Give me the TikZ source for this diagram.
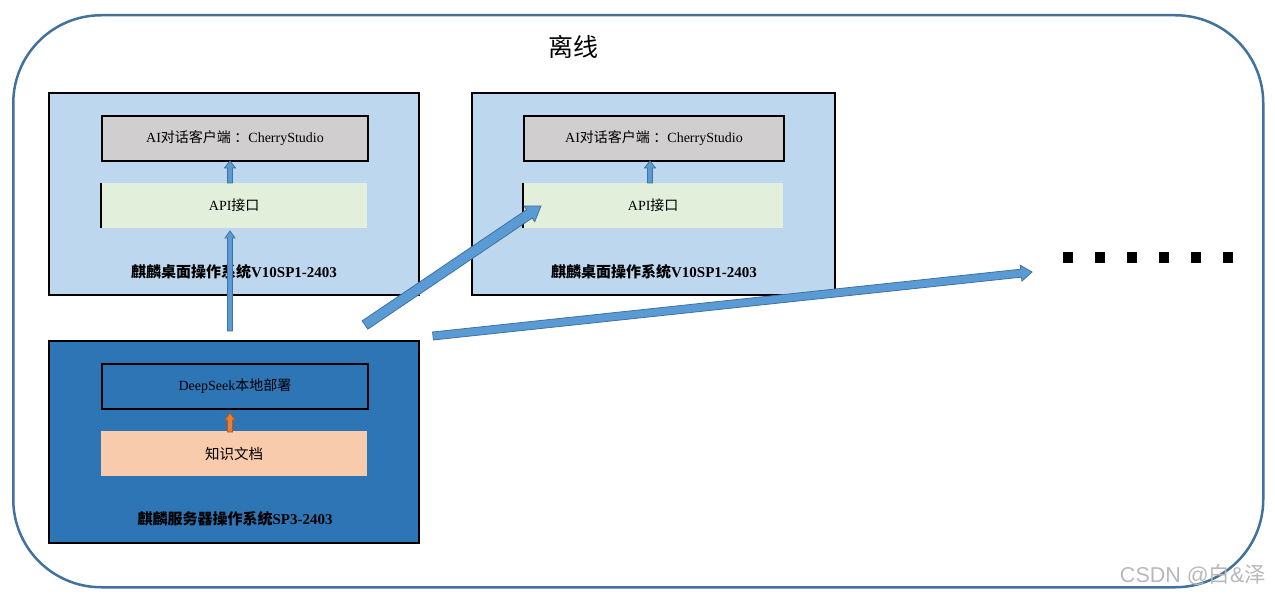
\documentclass[tikz,border=0pt]{standalone}
\usepackage{fontspec}
\setmainfont{Liberation Serif}
\newfontfamily\cjk{Noto Sans CJK SC}
\newfontfamily\wmfont{Liberation Sans}
\usetikzlibrary{calc}
\definecolor{deskc}{HTML}{BDD7EE}
\definecolor{grayc}{HTML}{D0CECE}
\definecolor{apic}{HTML}{E2EFDA}
\definecolor{srvc}{HTML}{2E75B6}
\definecolor{peachc}{HTML}{F8CBAD}
\definecolor{arrfill}{HTML}{5B9BD5}
\definecolor{arredge}{HTML}{41719C}
\definecolor{orgfill}{HTML}{ED7D31}
\definecolor{orgedge}{HTML}{AE5A21}
\definecolor{framec}{HTML}{41719C}
\newcommand{\blkarrow}[6]{%
  \coordinate (bh) at ($(#2)!#5!(#1)$);
  \filldraw[#6] ($(#1)!#3!90:(#2)$) -- ($(bh)!#3!90:(#2)$) -- ($(bh)!#4!90:(#2)$) -- (#2) -- ($(bh)!#4!-90:(#2)$) -- ($(bh)!#3!-90:(#2)$) -- ($(#1)!#3!-90:(#2)$) -- cycle;}
\tikzset{
  bigbox/.style={draw=black, line width=2pt, inner sep=0pt, anchor=north west},
  inbox/.style={inner sep=0pt, anchor=north west, minimum width=266pt, minimum height=45pt, font=\fontsize{14}{16}\selectfont},
  oslabel/.style={font=\fontsize{15}{17}\selectfont\bfseries},
  blue arrow/.style={fill=arrfill, draw=arredge, line width=0.8pt},
  orange arrow/.style={fill=orgfill, draw=orgedge, line width=0.8pt},
}
\begin{document}
\begin{tikzpicture}[x=1pt,y=-1pt]
\useasboundingbox (0,0) rectangle (1275,596);
% outer frame
\node[draw=framec, line width=2.5pt, rounded corners=88pt, minimum width=1250pt, minimum height=572pt, anchor=north west, inner sep=0pt] (offline) at (12,14) {};
\node[font=\cjk\fontsize{25}{27}\selectfont] (title) at (573,47) {离线};
% desktop 1
\node[bigbox, fill=deskc, minimum width=370pt, minimum height=202pt] (d1) at (48,92) {};
\node[inbox, draw=black, line width=2pt, fill=grayc] (c1) at (101,115) {AI{\cjk 对话客户端\hspace{0.25em}：}CherryStudio};
\node[inbox, fill=apic] (api1) at (101,183) {API{\cjk 接口}};
\draw[line width=1.5pt] (api1.north west) -- (api1.south west);
\node[oslabel] (l1) at (234,272) {{\cjk 麒麟桌面操作系统}V10SP1-2403};
% desktop 2
\node[bigbox, fill=deskc, minimum width=363pt, minimum height=202pt] (d2) at (471,92) {};
\node[inbox, draw=black, line width=2pt, fill=grayc, minimum width=260pt] (c2) at (523,115) {AI{\cjk 对话客户端\hspace{0.25em}：}CherryStudio};
\node[inbox, fill=apic, minimum width=260pt] (api2) at (523,183) {API{\cjk 接口}};
\draw[line width=1.5pt] (api2.north west) -- (api2.south west);
\node[oslabel] (l2) at (654,272) {{\cjk 麒麟桌面操作系统}V10SP1-2403};
% server
\node[bigbox, fill=srvc, minimum width=370pt, minimum height=202pt] (srv) at (48,340) {};
\node[inbox, draw=black, line width=2pt] (ds) at (101,363) {DeepSeek{\cjk 本地部署}};
\node[inbox, fill=peachc, font=\cjk\fontsize{14.5}{16}\selectfont] (kb) at (101,431) {知识文档};
\node[oslabel] (l3) at (235,519) {{\cjk 麒麟服务器操作系统}SP3-2403};
% connector coordinates
\coordinate (a1s) at (230,183); \coordinate (a1e) at (230,161);
\coordinate (a2s) at (650,183); \coordinate (a2e) at (650,161);
\coordinate (vs) at (230,331); \coordinate (ve) at (230,231);
\coordinate (ds1) at (365,325); \coordinate (de1) at (541,206);
\coordinate (hs) at (433,336); \coordinate (he) at (1032,272);
\coordinate (os) at (230,432); \coordinate (oe) at (230,413);
% arrows
\blkarrow{a1s}{a1e}{2.5pt}{5.5pt}{7pt}{blue arrow}
\blkarrow{a2s}{a2e}{2.5pt}{5.5pt}{7pt}{blue arrow}
\blkarrow{vs}{ve}{2.5pt}{5pt}{7pt}{blue arrow}
\blkarrow{os}{oe}{2.5pt}{5pt}{7pt}{orange arrow}
\blkarrow{ds1}{de1}{5pt}{9.5pt}{14pt}{blue arrow}
\blkarrow{hs}{he}{4pt}{8pt}{11pt}{blue arrow}
% ellipsis
\foreach \i in {0,...,5} \fill (1063+\i*32,252) rectangle ++(10,11);
% watermark
\node[text=black!28, font=\wmfont\fontsize{21.5}{23}\selectfont] (wm) at (1193,575) {CSDN @{\cjk 白}\&{\cjk 泽}};
\end{tikzpicture}
\end{document}
